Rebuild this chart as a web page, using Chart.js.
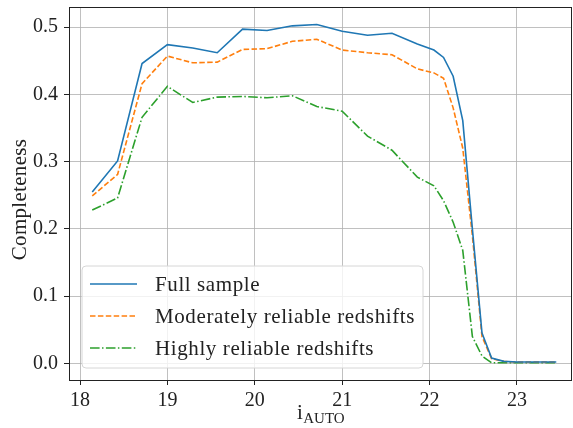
<!DOCTYPE html>
<html>
<head>
<meta charset="utf-8">
<script src="https://cdn.jsdelivr.net/npm/chart.js@4"></script>
<style>
html,body{margin:0;padding:0;background:#fff;}
#wrap{width:573px;height:428px;position:relative;}
</style>
</head>
<body>
<div id="wrap"><canvas id="c" width="573" height="428"></canvas></div>
<script>
const magnitudes = [18.14,18.43,18.71,19.0,19.29,19.57,19.86,20.14,20.43,20.71,21.0,21.29,21.57,21.86,22.05,22.16,22.27,22.38,22.49,22.6,22.71,22.85,23.0,23.15,23.3,23.45];
const fullSample = [0.255,0.301,0.446,0.474,0.469,0.462,0.497,0.495,0.502,0.504,0.494,0.488,0.491,0.475,0.466,0.455,0.427,0.361,0.2,0.045,0.008,0.003,0.002,0.002,0.002,0.002];
const moderatelyReliable = [0.249,0.281,0.416,0.457,0.447,0.448,0.467,0.468,0.479,0.482,0.466,0.462,0.459,0.438,0.432,0.424,0.38,0.32,0.19,0.04,0.007,0.003,0.002,0.002,0.002,0.002];
const highlyReliable = [0.228,0.246,0.366,0.412,0.388,0.396,0.397,0.395,0.398,0.382,0.375,0.338,0.317,0.277,0.264,0.242,0.21,0.168,0.04,0.011,0.001,0.001,0.001,0.001,0.001,0.001];
const seriesLabels = ["Full sample","Moderately reliable redshifts","Highly reliable redshifts"];
const xTicks = [18,19,20,21,22,23];
const yTicks = [0.0,0.1,0.2,0.3,0.4,0.5];
const yTitle = "Completeness";
const xTitleMain = "i";
const xTitleSub = "AUTO";

const FONT = "'Liberation Serif', 'DejaVu Serif', serif";
const colors = ['#1f77b4','#ff7f0e','#2ca02c'];
const dashes = [[], [5.5,2.4], [9.6,2.4,1.5,2.4]];
const seriesData = [fullSample, moderatelyReliable, highlyReliable];

const datasets = seriesData.map((arr, i) => ({
  label: seriesLabels[i],
  data: arr.map((v, j) => ({x: magnitudes[j], y: v})),
  borderColor: colors[i],
  backgroundColor: colors[i],
  borderWidth: 1.6,
  borderDash: dashes[i],
  pointRadius: 0,
  tension: 0,
  fill: false
}));

const overlay = {
  id: 'overlay',
  afterDraw(chart) {
    const ctx = chart.ctx;
    const a = chart.chartArea;
    ctx.save();
    // frame
    ctx.strokeStyle = '#222';
    ctx.lineWidth = 1;
    ctx.strokeRect(Math.round(a.left)+0.5, Math.round(a.top)+0.5, Math.round(a.right-a.left)-1, Math.round(a.bottom-a.top));
    // legend
    const lx = 82, ly = 266, lw = 341, lh = 102, r = 4;
    ctx.beginPath();
    ctx.moveTo(lx+r, ly);
    ctx.arcTo(lx+lw, ly, lx+lw, ly+lh, r);
    ctx.arcTo(lx+lw, ly+lh, lx, ly+lh, r);
    ctx.arcTo(lx, ly+lh, lx, ly, r);
    ctx.arcTo(lx, ly, lx+lw, ly, r);
    ctx.closePath();
    ctx.fillStyle = 'rgba(255,255,255,0.8)';
    ctx.fill();
    ctx.strokeStyle = '#d6d6d6';
    ctx.lineWidth = 1;
    ctx.stroke();
    const rows = [284, 316, 348];
    for (let i = 0; i < 3; i++) {
      ctx.beginPath();
      ctx.setLineDash(dashes[i]);
      ctx.strokeStyle = colors[i];
      ctx.lineWidth = 1.6;
      ctx.moveTo(90, rows[i]);
      ctx.lineTo(137, rows[i]);
      ctx.stroke();
      ctx.setLineDash([]);
      ctx.fillStyle = '#222';
      ctx.font = "21px " + FONT;
      ctx.letterSpacing = '0.6px';
      ctx.textAlign = 'left';
      ctx.textBaseline = 'middle';
      ctx.fillText(seriesLabels[i], 155, rows[i]+1);
      ctx.letterSpacing = '0px';
    }
    // y title
    ctx.save();
    ctx.translate(20, (a.top + a.bottom)/2 + 6);
    ctx.rotate(-Math.PI/2);
    ctx.font = "21px " + FONT;
    ctx.letterSpacing = '0.3px';
    ctx.textAlign = 'center';
    ctx.textBaseline = 'middle';
    ctx.fillStyle = '#222';
    ctx.fillText(yTitle, 0, 0);
    ctx.letterSpacing = '0px';
    ctx.restore();
    // x title with subscript
    ctx.font = "21px " + FONT;
    const w1 = ctx.measureText(xTitleMain).width;
    ctx.font = "15px " + FONT;
    const w2 = ctx.measureText(xTitleSub).width;
    const cx = (a.left + a.right)/2;
    let sx = cx - (w1 + w2)/2;
    ctx.textAlign = 'left';
    ctx.textBaseline = 'alphabetic';
    ctx.fillStyle = '#222';
    ctx.font = "21px " + FONT;
    ctx.fillText(xTitleMain, sx, 419);
    ctx.font = "15px " + FONT;
    ctx.fillText(xTitleSub, sx + w1 + 0.5, 423);
    ctx.restore();
  }
};

new Chart(document.getElementById('c'), {
  type: 'line',
  data: { datasets },
  options: {
    responsive: false,
    animation: false,
    devicePixelRatio: 1,
    layout: { padding: { top: 7, right: 1, left: 0, bottom: 0 } },
    plugins: { legend: { display: false }, tooltip: { enabled: false } },
    scales: {
      x: {
        type: 'linear',
        min: 17.874,
        max: 23.63,
        afterBuildTicks: s => { s.ticks = xTicks.map(v => ({value: v})); },
        afterFit: s => { s.height = 48; s.paddingLeft = 0; s.paddingRight = 0; },
        grid: { color: 'rgba(176,176,176,0.8)', lineWidth: 1, tickColor: '#222', tickLength: 5, drawTicks: true },
        border: { display: false },
        ticks: { color: '#222', font: { family: FONT, size: 20 }, padding: 4, callback: v => String(v) }
      },
      y: {
        min: -0.0247,
        max: 0.530,
        afterBuildTicks: s => { s.ticks = yTicks.map(v => ({value: v})); },
        afterFit: s => { s.width = 69; s.paddingTop = 0; s.paddingBottom = 0; },
        grid: { color: 'rgba(176,176,176,0.8)', lineWidth: 1, tickColor: '#222', tickLength: 5, drawTicks: true },
        border: { display: false },
        ticks: { color: '#222', font: { family: FONT, size: 20 }, padding: 6, callback: v => v.toFixed(1) }
      }
    }
  },
  plugins: [overlay]
});
</script>
</body>
</html>
